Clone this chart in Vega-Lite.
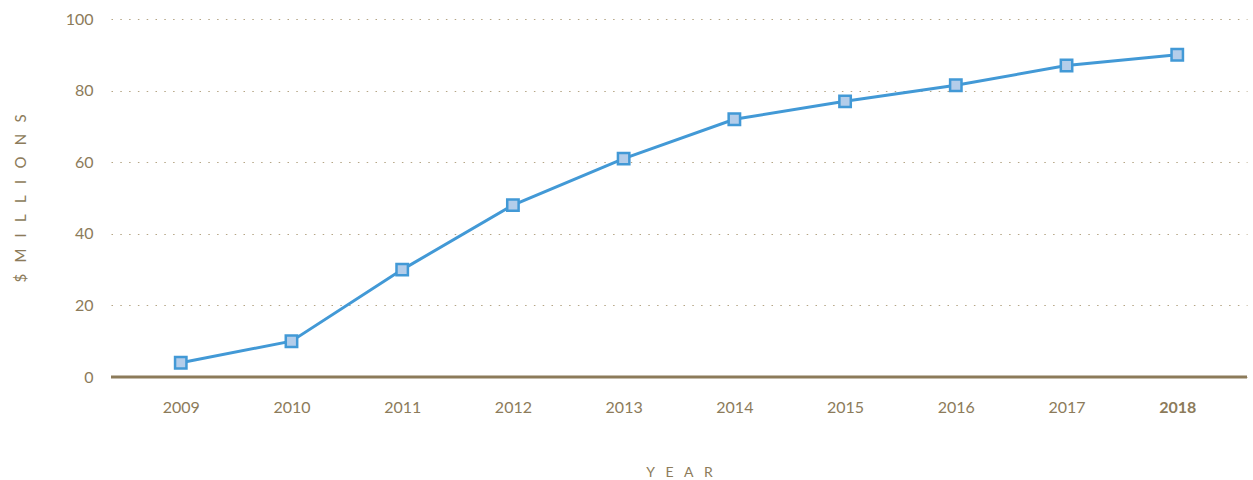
{
  "$schema": "https://vega.github.io/schema/vega-lite/v6.json",
  "width": 1136,
  "height": 358,
  "autosize": "none",
  "padding": {"left": 111, "top": 19, "right": 6, "bottom": 103},
  "background": "white",
  "config": {"view": {"stroke": null}, "font": "Lato"},
  "data": {"values": [
    {"year": "2009", "value": 4},
    {"year": "2010", "value": 10},
    {"year": "2011", "value": 30},
    {"year": "2012", "value": 48},
    {"year": "2013", "value": 61},
    {"year": "2014", "value": 72},
    {"year": "2015", "value": 77},
    {"year": "2016", "value": 81.5},
    {"year": "2017", "value": 87},
    {"year": "2018", "value": 90}
  ]},
  "encoding": {
    "x": {
      "field": "year", "type": "ordinal",
      "scale": {"type": "point", "padding": 0.63},
      "axis": {
        "title": "Y\u2003E\u2003A\u2003R",
        "titleColor": "#8C7B5A", "titleFont": "Lato", "titleFontSize": 14, "titleFontWeight": "normal",
        "titleY": 95, "titleBaseline": "middle",
        "labelAngle": 0, "labelColor": "#8C7B5A", "labelFontSize": 16, "labelFont": "Lato",
        "labelPadding": 22,
        "labelFontWeight": {"condition": {"test": "datum.value == '2018'", "value": "bold"}, "value": "normal"},
        "ticks": false, "domain": false, "grid": false
      }
    },
    "y": {
      "field": "value", "type": "quantitative",
      "scale": {"domain": [0, 100]},
      "axis": {
        "values": [0, 20, 40, 60, 80, 100],
        "title": "$\u2003M\u2003I\u2003L\u2003L\u2003I\u2003O\u2003N\u2003S",
        "titleColor": "#8C7B5A", "titleFont": "Lato", "titleFontSize": 15, "titleFontWeight": "normal",
        "titleX": -91, "titleY": 179, "titleAngle": -90, "titleAlign": "center", "titleBaseline": "middle",
        "labelColor": "#8C7B5A", "labelFontSize": 16, "labelFont": "Lato", "labelPadding": 18,
        "ticks": false, "domain": false,
        "grid": true, "gridColor": "#B5A585", "gridDash": [1.5, 7.3], "gridWidth": 1.2
      }
    }
  },
  "layer": [
    {
      "mark": {"type": "rule", "color": "#8C7B5A", "strokeWidth": 3},
      "data": {"values": [{"y": 0}]},
      "encoding": {"y": {"field": "y", "type": "quantitative"}, "x": null}
    },
    {
      "mark": {"type": "line", "color": "#4299D6", "strokeWidth": 3}
    },
    {
      "mark": {"type": "point", "shape": "square", "size": 130, "filled": true, "fill": "#B3CDEA", "stroke": "#4299D6", "strokeWidth": 2.5, "opacity": 1}
    }
  ]
}
